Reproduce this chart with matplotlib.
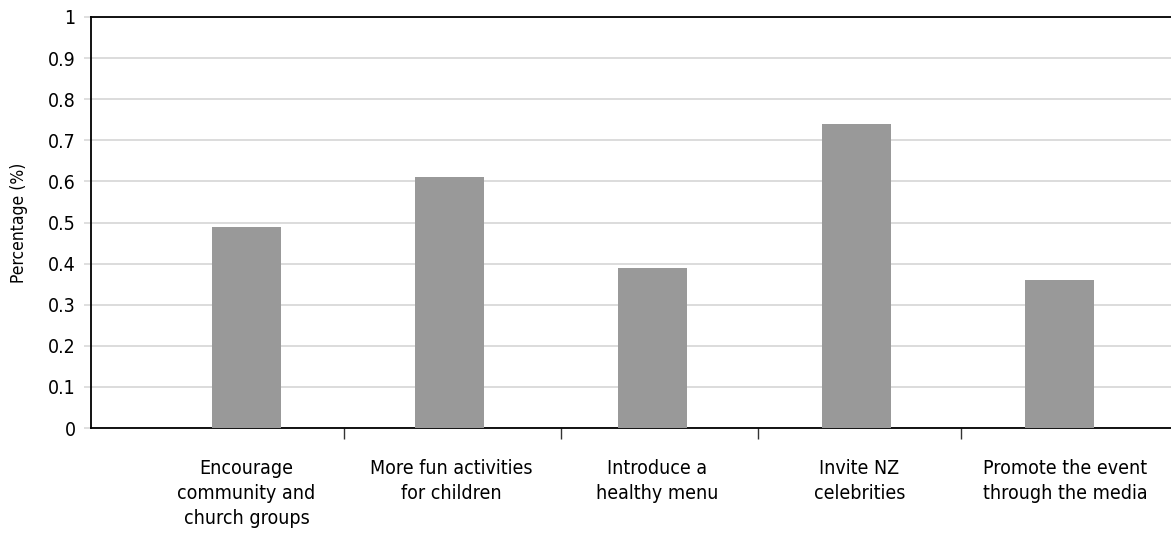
import matplotlib
matplotlib.use("Agg")
import matplotlib.pyplot as plt
from matplotlib import font_manager

# ── Data ──────────────────────────────────────────────────────────────────────

CATEGORIES = [
    "Encourage\ncommunity and\nchurch groups",
    "More fun activities\nfor children",
    "Introduce a\nhealthy menu",
    "Invite NZ\ncelebrities",
    "Promote the event\nthrough the media",
]
VALUES = [0.49, 0.61, 0.39, 0.74, 0.36]
Y_TICKS = [0, 0.1, 0.2, 0.3, 0.4, 0.5, 0.6, 0.7, 0.8, 0.9, 1]
Y_TICK_LABELS = ["0", "0.1", "0.2", "0.3", "0.4", "0.5", "0.6", "0.7", "0.8", "0.9", "1"]

SEPARATORS   = [0.48, 1.547, 2.517, 3.515]
LABEL_SHIFT  = [0.0, 0.01, 0.02, 0.015, 0.03]
BAR_COLOR    = "#999999"
GRID_COLOR   = "#d9d9d9"

# pick a condensed face if one is installed
condensed = [f for f in font_manager.fontManager.ttflist
             if f.stretch in ("condensed", "semi-condensed", 87.5, 75)
             or "Condensed" in f.fname or "Narrow" in f.fname]
if condensed:
    plt.rcParams["font.family"] = [condensed[0].name, "DejaVu Sans"]
    plt.rcParams["font.stretch"] = condensed[0].stretch
else:
    plt.rcParams["font.family"] = ["Liberation Sans", "DejaVu Sans"]

fig = plt.figure(figsize=(11.71, 5.34), dpi=100)
ax = fig.add_axes([91 / 1171, 1 - 428 / 534, 1 - 91 / 1171, (428 - 17) / 534])

positions = list(range(len(VALUES)))
ax.bar(positions, VALUES, width=0.34, color=BAR_COLOR, zorder=3)

ax.set_xlim(-0.765, 4.549)
ax.set_ylim(0, 1)

ax.set_yticks(Y_TICKS)
ax.set_yticklabels(Y_TICK_LABELS, fontsize=14)
ax.yaxis.grid(True, color=GRID_COLOR, linewidth=1.3, zorder=0)
ax.tick_params(axis="y", length=5, width=1.2, color=GRID_COLOR, pad=6)

# category labels sit on major ticks, separators are minor ticks
ax.set_xticks([p + s for p, s in zip(positions, LABEL_SHIFT)])
ax.set_xticklabels(CATEGORIES, fontsize=14, linespacing=1.4)
ax.tick_params(axis="x", which="major", length=0, pad=22)
ax.set_xticks(SEPARATORS, minor=True)
ax.tick_params(axis="x", which="minor", length=8, width=1, color="#333333")

ax.set_ylabel("Percentage (%)", fontsize=12.5, labelpad=14)

for side in ("left", "bottom", "top"):
    ax.spines[side].set_color("black")
    ax.spines[side].set_linewidth(1.3)
ax.spines["right"].set_visible(False)

fig.savefig("out.png", dpi=100, facecolor="white")
